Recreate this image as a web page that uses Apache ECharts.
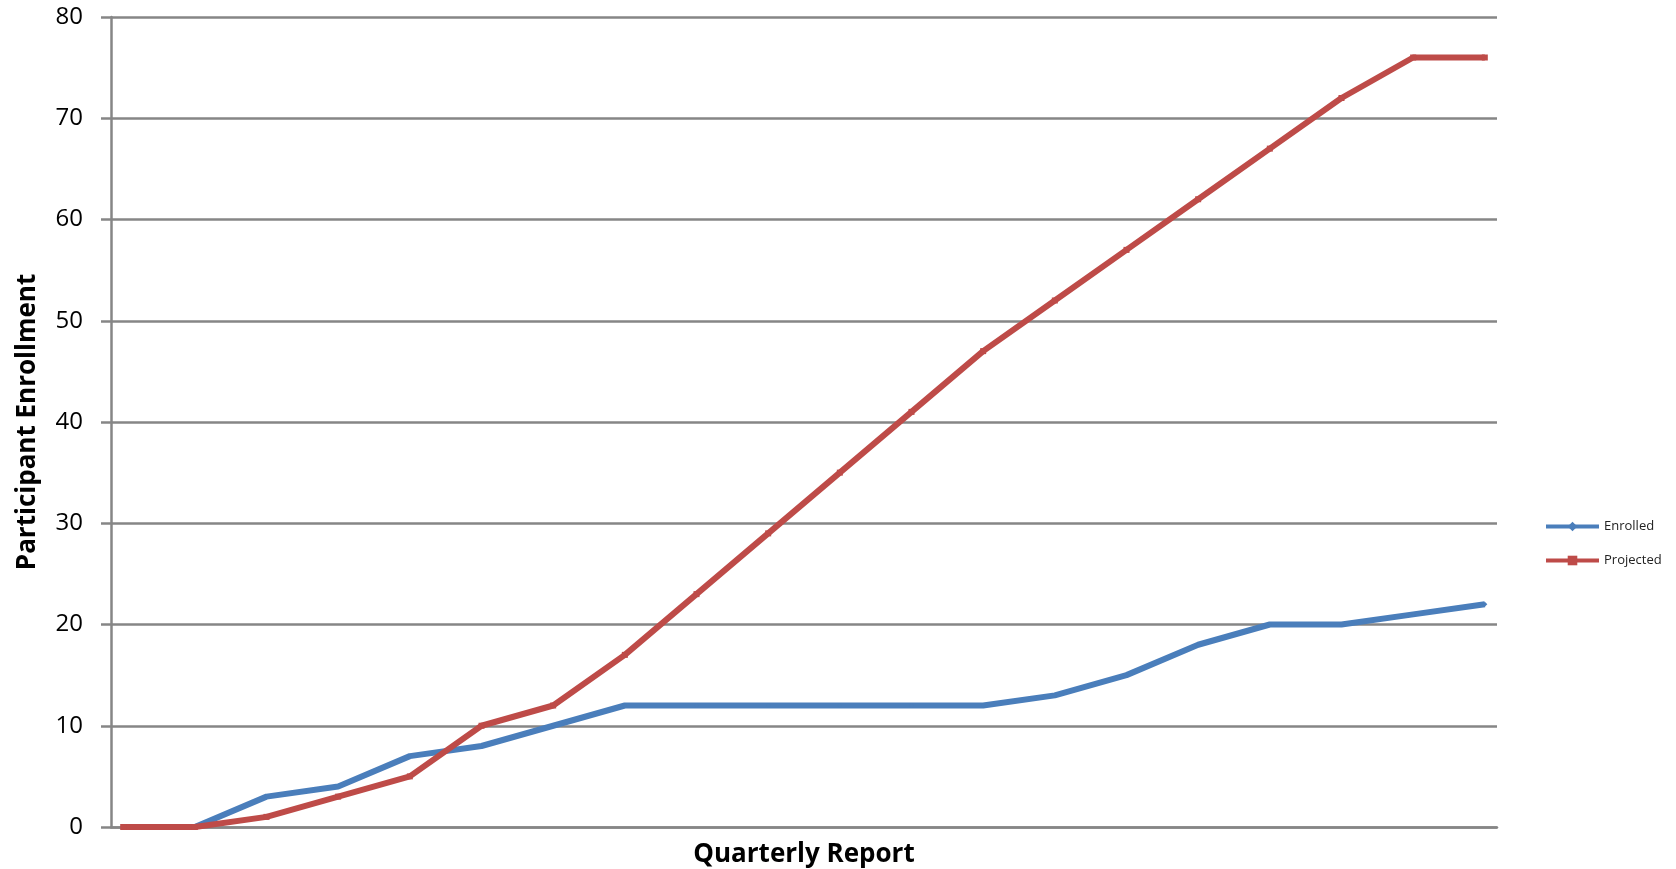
<!DOCTYPE html>
<html>
<head>
<meta charset="utf-8">
<script src="https://cdn.jsdelivr.net/npm/echarts@6/dist/echarts.min.js"></script>
<style>
html,body{margin:0;padding:0;background:#fff;}
#c{width:1676px;height:869px;}
</style>
</head>
<body>
<div id="c"></div>
<script>
var quarters = [1,2,3,4,5,6,7,8,9,10,11,12,13,14,15,16,17,18,19,20];
var enrolled = [0,0,3,4,7,8,10,12,12,12,12,12,12,13,15,18,20,20,21,22];
var projected = [0,0,1,3,5,10,12,17,23,29,35,41,47,52,57,62,67,72,76,76];
var yTicks = [0,10,20,30,40,50,60,70,80];

function pairs(vals){ return vals.map(function(v,i){ return [i, v]; }); }

var chart = echarts.init(document.getElementById('c'));
var font = '"Open Sans", Lato, sans-serif';
chart.setOption({
  animation:false,
  backgroundColor:'#fff',
  grid:{left:111, right:179, top:17, bottom:42, containLabel:false, outerBoundsMode:'none'},
  legend:{
    orient:'vertical', left:1539, top:515, itemGap:21,
    itemWidth:53, itemHeight:12, itemGap:21,
    lineStyle:{width:4},
    textStyle:{fontFamily:font, fontSize:13, color:'#222'},
    data:['Enrolled','Projected']
  },
  xAxis:{
    type:'value', min:-0.17, max:quarters.length-1+0.17,
    name:'Quarterly Report', nameLocation:'middle', nameGap:15,
    nameTextStyle:{fontFamily:font, fontSize:26, fontWeight:'bold', color:'#000'},
    axisLabel:{show:false}, axisTick:{show:false}, splitLine:{show:false},
    axisLine:{show:true, lineStyle:{color:'#868686', width:2.5}}
  },
  yAxis:{
    type:'value', min:yTicks[0], max:yTicks[yTicks.length-1], interval:10,
    name:'Participant Enrollment', nameLocation:'middle', nameGap:70,
    nameTextStyle:{fontFamily:font, fontSize:26, fontWeight:'bold', color:'#000'},
    axisLine:{show:true, onZero:false, lineStyle:{color:'#868686', width:2.5}},
    axisTick:{show:true, length:10, lineStyle:{color:'#868686', width:2.5}},
    axisLabel:{fontFamily:font, fontSize:24, color:'#000', margin:28},
    splitLine:{show:true, lineStyle:{color:'#868686', width:2.5}}
  },
  series:[
    {name:'Enrolled', type:'line', data:pairs(enrolled), color:'#4A7EBB',
     lineStyle:{width:6, color:'#4A7EBB'}, symbol:'diamond', symbolSize:5,
     itemStyle:{color:'#4A7EBB'}, z:2},
    {name:'Projected', type:'line', data:pairs(projected), color:'#BE4B48',
     lineStyle:{width:6, color:'#BE4B48'}, symbol:'rect', symbolSize:6,
     itemStyle:{color:'#BE4B48'}, z:3}
  ]
});
</script>
</body>
</html>
